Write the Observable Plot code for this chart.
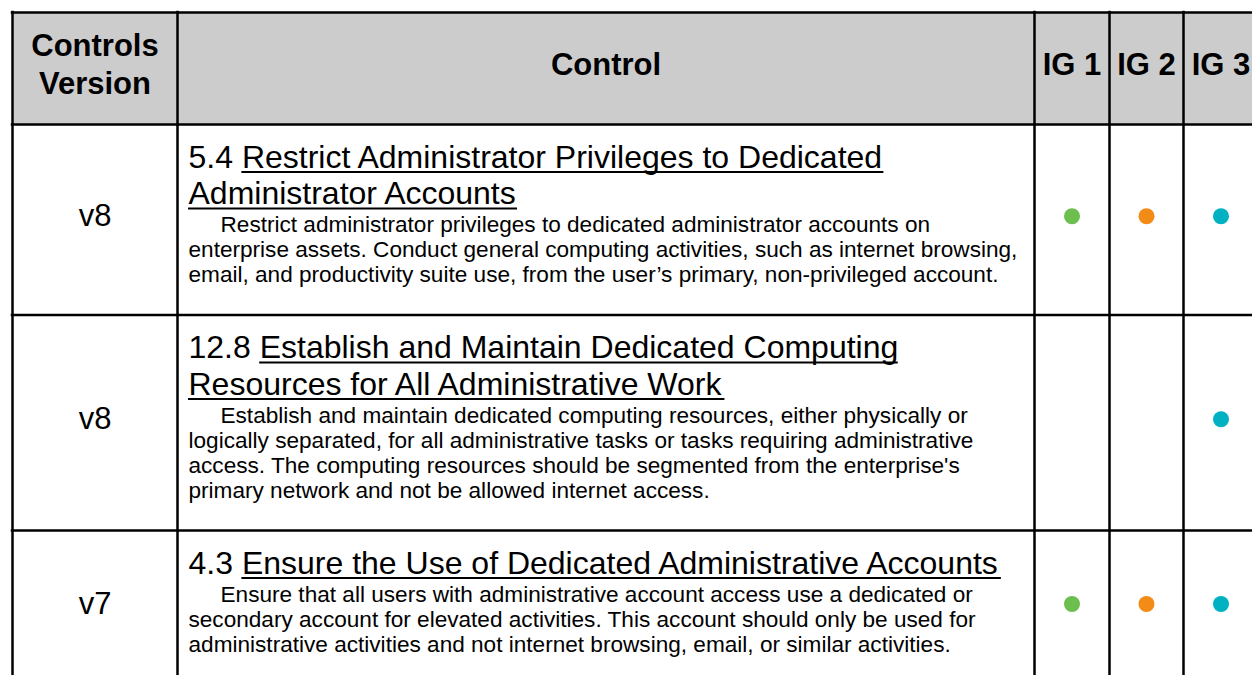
<!DOCTYPE html>
<html>
<head>
<meta charset="utf-8">
<script src="https://cdn.jsdelivr.net/npm/d3@7"></script>
<script src="https://cdn.jsdelivr.net/npm/@observablehq/plot@0.6"></script>
<style>
  html, body { margin: 0; padding: 0; background: #ffffff; }
  #chart svg { display: block; }
</style>
</head>
<body>
<div id="chart"></div>
<script>
// ---------- data ----------
const headerLabels = ["Controls\nVersion", "Control", "IG 1", "IG 2", "IG 3"];
const versions = ["v8", "v8", "v7"];
const controlIds = ["5.4", "12.8", "4.3"];
const controlTitleLines = [
  ["Restrict Administrator Privileges to Dedicated", "Administrator Accounts"],
  ["Establish and Maintain Dedicated Computing", "Resources for All Administrative Work"],
  ["Ensure the Use of Dedicated Administrative Accounts"]
];
const descriptionLines = [
  ["Restrict administrator privileges to dedicated administrator accounts on",
   "enterprise assets. Conduct general computing activities, such as internet browsing,",
   "email, and productivity suite use, from the user\u2019s primary, non-privileged account."],
  ["Establish and maintain dedicated computing resources, either physically or",
   "logically separated, for all administrative tasks or tasks requiring administrative",
   "access. The computing resources should be segmented from the enterprise's",
   "primary network and not be allowed internet access."],
  ["Ensure that all users with administrative account access use a dedicated or",
   "secondary account for elevated activities. This account should only be used for",
   "administrative activities and not internet browsing, email, or similar activities."]
];
const ig1 = [true, false, true];
const ig2 = [true, false, true];
const ig3 = [true, true, true];
const igFlags = [ig1, ig2, ig3];

// ---------- layout & style ----------
const W = 1252, H = 675;
const FONT = "Liberation Sans, Arial, Helvetica, sans-serif";
const CANVAS_FONT = '"Liberation Sans", Arial, Helvetica, sans-serif';
const igColors = ["#6cbe4f", "#f28c16", "#00b1c1"];
const S = {header: 31, version: 31, title: 32, body: 22.6};
const L = {
  left: 12, top: 12, colWidths: [165, 857, 75, 74, 75], headerHeight: 112,
  padLeft: 11, titleFirst: 43, titleStep: 36.5, bodyGap: 28, bodyStep: 25,
  bottomPad: 33, indent: 32, centerShift: 3.5, headerShift: 6, underlineOffset: 4.5
};

const colEdges = Array.from(d3.cumsum([L.left, ...L.colWidths]));
const colCenter = c => (colEdges[c] + colEdges[c + 1]) / 2;

const rows = [];
let yTop = L.top + L.headerHeight;
versions.forEach((v, i) => {
  const titleBase = controlTitleLines[i].map((_, j) => yTop + L.titleFirst + j * L.titleStep);
  const lastT = titleBase[titleBase.length - 1];
  const bodyBase = descriptionLines[i].map((_, j) => lastT + L.bodyGap + j * L.bodyStep);
  const bottom = bodyBase[bodyBase.length - 1] + L.bottomPad;
  rows.push({top: yTop, bottom, titleBase, bodyBase, mid: (yTop + bottom) / 2 - L.centerShift});
  yTop = bottom;
});
const rowEdges = [L.top, L.top + L.headerHeight, ...rows.map(r => r.bottom)];

// text measurement for underlines
const ctx = document.createElement("canvas").getContext("2d");
ctx.font = `${S.title}px ${CANVAS_FONT}`;
const measure = s => ctx.measureText(s).width;

// ---------- mark data ----------
const headerCells = headerLabels.map((label, c) => ({
  label, x: colCenter(c), y: (rowEdges[0] + rowEdges[1]) / 2 - L.headerShift
}));
const versionCells = versions.map((v, i) => ({label: v, x: colCenter(0), y: rows[i].mid}));
const titleData = [];
controlTitleLines.forEach((lines, i) => lines.forEach((t, j) => {
  const prefix = j === 0 ? controlIds[i] + " " : "";
  const x = colEdges[1] + L.padLeft;
  const x1 = x + measure(prefix);
  titleData.push({label: prefix + t, x, y: rows[i].titleBase[j],
    ux1: x1, ux2: x1 + measure(t), uy: rows[i].titleBase[j] + L.underlineOffset});
}));
const bodyData = [];
descriptionLines.forEach((lines, i) => lines.forEach((t, j) => {
  bodyData.push({text: t, x: colEdges[1] + L.padLeft + (j === 0 ? L.indent : 0), y: rows[i].bodyBase[j]});
}));
const dotData = [];
igFlags.forEach((flags, g) => flags.forEach((on, i) => {
  if (on) dotData.push({group: g, x: colCenter(2 + g), y: rows[i].mid});
}));
const vLines = colEdges.map(x => ({x}));
const hLines = rowEdges.map(y => ({y}));

// ---------- plot ----------
const svg = Plot.plot({
  width: W, height: H,
  marginTop: 0, marginRight: 0, marginBottom: 0, marginLeft: 0,
  x: {type: "linear", domain: [0, W], range: [0, W], axis: null},
  y: {type: "linear", domain: [0, H], range: [0, H], axis: null},
  color: {type: "ordinal", domain: [0, 1, 2], range: igColors},
  style: {background: "#ffffff", fontFamily: FONT},
  marks: [
    Plot.rect([{x1: colEdges[0], x2: colEdges[5], y1: rowEdges[0], y2: rowEdges[1]}],
      {x1: "x1", x2: "x2", y1: "y1", y2: "y2", fill: "#cccccc"}),
    Plot.ruleX(vLines, {x: "x", y1: rowEdges[0], y2: H + 20, stroke: "#000", strokeWidth: 2.5, strokeLinecap: "square"}),
    Plot.ruleY(hLines, {y: "y", x1: colEdges[0], x2: colEdges[5], stroke: "#000", strokeWidth: 2.5, strokeLinecap: "square"}),
    Plot.text(headerCells, {x: "x", y: "y", text: "label", fontSize: S.header, fontWeight: "bold",
      lineHeight: 1.22, lineAnchor: "middle", textAnchor: "middle", fill: "#000", fontFamily: FONT}),
    Plot.text(versionCells, {x: "x", y: "y", text: "label", fontSize: S.version,
      lineAnchor: "middle", textAnchor: "middle", fill: "#000", fontFamily: FONT}),
    Plot.text(titleData, {x: "x", y: "y", text: "label", fontSize: S.title,
      lineAnchor: "bottom", textAnchor: "start", fill: "#000", fontFamily: FONT}),
    Plot.ruleY(titleData, {y: "uy", x1: "ux1", x2: "ux2", stroke: "#000", strokeWidth: 2}),
    Plot.text(bodyData, {x: "x", y: "y", text: "text", fontSize: S.body,
      lineAnchor: "bottom", textAnchor: "start", fill: "#000", fontFamily: FONT}),
    Plot.dot(dotData, {x: "x", y: "y", r: 8, fill: "group", stroke: null})
  ]
});

document.getElementById("chart").appendChild(svg);
</script>
</body>
</html>
